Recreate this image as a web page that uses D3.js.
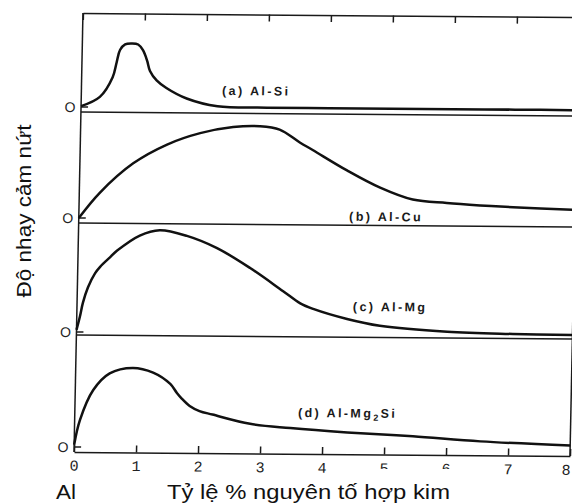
<!DOCTYPE html>
<html>
<head>
<meta charset="utf-8">
<script src="https://cdn.jsdelivr.net/npm/d3@7"></script>
<style>
  body { margin: 0; background: #fff; }
  svg { display: block; font-family: 'Liberation Sans', Arial, sans-serif; }
</style>
</head>
<body>
<div id="container"></div>
<script>
// x: % alloying element, y: crack sensitivity (arbitrary units, 0..10 per panel)
const xTicks = [0, 1, 2, 3, 4, 5, 6, 7, 8]
const zeroLabel = 'O'
const seriesNames = ['(a) Al-Si', '(b) Al-Cu', '(c) Al-Mg', '(d) Al-Mg_2Si']

const alSiX = [0, 0.3, 0.5, 0.56, 0.61, 0.69, 0.8, 0.9, 0.98, 1.05, 1.1, 1.21, 1.37, 1.7, 2.2, 3, 4, 5, 6, 7, 8]
const alSiY = [0.1, 1.1, 3.2, 4.8, 6.1, 6.7, 6.8, 6.7, 6.1, 5.0, 3.9, 2.9, 2.1, 1.0, 0.2, 0.1, 0.1, 0.1, 0.1, 0.1, 0.1]

const alCuX = [0, 0.33, 0.86, 1.4, 1.93, 2.46, 2.89, 3.21, 3.54, 3.75, 4.31, 4.85, 5.38, 5.93, 6.47, 7, 8]
const alCuY = [0, 2.4, 5.2, 7.0, 8.1, 8.7, 8.8, 8.5, 7.3, 6.6, 4.7, 3.1, 2.0, 1.7, 1.5, 1.35, 1.15]

const alMgX = [0, 0.05, 0.095, 0.17, 0.28, 0.36, 0.52, 0.63, 0.99, 1.31, 1.75, 2.24, 2.78, 3.32, 3.6, 3.81, 4.36, 4.89, 5.98, 7.04, 8]
const alMgY = [0.2, 1.4, 2.7, 4.1, 5.4, 6.0, 6.9, 7.5, 8.9, 9.4, 8.9, 7.8, 6.0, 3.9, 2.8, 2.3, 1.4, 0.8, 0.3, 0.15, 0.1]

const alMg2SiX = [0, 0.085, 0.29, 0.55, 0.92, 1.25, 1.53, 1.64, 1.72, 1.85, 2.01, 2.22, 2.83, 3.48, 4.4, 5.46, 6.55, 8]
const alMg2SiY = [0.2, 2.4, 5.1, 6.6, 7.1, 6.7, 5.7, 4.9, 4.4, 3.75, 3.3, 3.0, 2.2, 1.85, 1.5, 1.2, 0.8, 0.5]

const yTitle = 'Độ nhạy cảm nứt'
const xTitle = 'Tỷ lệ % nguyên tố hợp kim'
const baseName = 'Al'

// layout (scanned figure is slightly tilted)
const width = 572
const height = 504
const plotW = 496
const plotH = 439
const origin = [74, 452]
const panels = [
  { xs: alSiX, ys: alSiY, top: 0, zero: 94, bottom: 99, at: [2.27, 1.4] },
  { xs: alCuX, ys: alCuY, top: 99, zero: 205, bottom: 210, at: [4.36, -0.05] },
  { xs: alMgX, ys: alMgY, top: 210, zero: 319, bottom: 322, at: [4.45, 2.14] },
  { xs: alMg2SiX, ys: alMg2SiY, top: 322, zero: 434, bottom: 439, at: [3.6, 2.84] }
]

drawChart()

function drawChart () {
  const svg = d3
    .select('#container')
    .append('svg')
    .attr('width', width)
    .attr('height', height)

  const g = svg
    .append('g')
    .attr('transform', `translate(${origin[0]},${origin[1]}) rotate(0.47) skewX(-0.7) translate(0,${-plotH})`)

  const xScale = d3
    .scaleLinear()
    .domain([0, 8])
    .range([0, plotW])

  // frame
  const lines = [
    [0, 0, 0, plotH],
    [plotW, 0, plotW, plotH]
  ]
  panels.slice(0, 3).forEach(p => lines.push([0, p.bottom, plotW, p.bottom]))
  g.selectAll('.frame')
    .data(lines)
    .enter()
    .append('line')
    .attr('class', 'frame')
    .attr('x1', d => d[0])
    .attr('y1', d => d[1])
    .attr('x2', d => d[2])
    .attr('y2', d => d[3])
    .attr('stroke', '#1a1a1a')
    .attr('stroke-width', 1.5)

  g.append('g')
    .attr('class', 'x-axis-top')
    .call(d3.axisTop(xScale).tickValues(xTicks).tickSize(-7).tickSizeOuter(0).tickFormat(''))
    .call(a => a.selectAll('line, path').attr('stroke', '#1a1a1a').attr('stroke-width', 1.5))

  g.append('g')
    .attr('class', 'x-axis')
    .attr('transform', `translate(0,${plotH})`)
    .call(d3.axisBottom(xScale).tickValues(xTicks).tickSize(-7).tickSizeOuter(0).tickPadding(8))
    .call(a => a.selectAll('line, path').attr('stroke', '#1a1a1a').attr('stroke-width', 1.5))
    .call(a => a.selectAll('text')
      .attr('fill', '#222')
      .attr('dx', d => d === 8 ? -4 : 0)
      .style('font-family', "'Liberation Mono', monospace")
      .style('font-size', '15px'))

  panels.forEach((p, i) => {
    const yScale = d3
      .scaleLinear()
      .domain([0, 10])
      .range([p.zero, p.top])

    // zero stub and label
    g.append('line')
      .attr('x1', 0)
      .attr('x2', 7)
      .attr('y1', yScale(0))
      .attr('y2', yScale(0))
      .attr('stroke', '#1a1a1a')
      .attr('stroke-width', 1.5)
    g.append('text')
      .attr('x', -11)
      .attr('y', yScale(0))
      .attr('dy', '0.36em')
      .attr('text-anchor', 'middle')
      .attr('fill', '#222')
      .style('font-size', '14px')
      .text(zeroLabel)

    const line = d3
      .line()
      .x(d => xScale(d[0]))
      .y(d => yScale(d[1]))
      .curve(d3.curveCatmullRom.alpha(0.5))
    g.append('path')
      .datum(d3.zip(p.xs, p.ys))
      .attr('fill', 'none')
      .attr('stroke', '#111')
      .attr('stroke-width', 2.5)
      .attr('d', line)

    const parts = seriesNames[i].split('_')
    const label = g.append('text')
      .attr('x', xScale(p.at[0]))
      .attr('y', yScale(p.at[1]))
      .attr('fill', '#1a1a1a')
      .style('font-size', '12.5px')
      .style('font-weight', 'bold')
      .style('letter-spacing', '2.4px')
    label.append('tspan').text(parts[0])
    if (parts.length > 1) {
      label.append('tspan')
        .attr('dy', 3)
        .style('font-size', '9px')
        .text(parts[1][0])
      label.append('tspan')
        .attr('dy', -3)
        .text(parts[1].slice(1))
    }
  })

  // cover box of the overlaid caption (clips some tick digits)
  svg.append('rect')
    .attr('x', 340)
    .attr('y', 469)
    .attr('width', 130)
    .attr('height', 35)
    .attr('fill', '#fff')

  svg.append('text')
    .attr('transform', 'translate(31,211) rotate(-90)')
    .attr('text-anchor', 'middle')
    .attr('textLength', 173)
    .attr('lengthAdjust', 'spacingAndGlyphs')
    .attr('fill', '#111')
    .style('font-size', '21px')
    .text(yTitle)

  svg.append('text')
    .attr('x', 56)
    .attr('y', 499)
    .attr('textLength', 20)
    .attr('lengthAdjust', 'spacingAndGlyphs')
    .attr('fill', '#111')
    .style('font-size', '21px')
    .text(baseName)

  svg.append('text')
    .attr('x', 167)
    .attr('y', 499)
    .attr('textLength', 283)
    .attr('lengthAdjust', 'spacingAndGlyphs')
    .attr('fill', '#111')
    .style('font-size', '21px')
    .text(xTitle)
}
</script>
</body>
</html>
